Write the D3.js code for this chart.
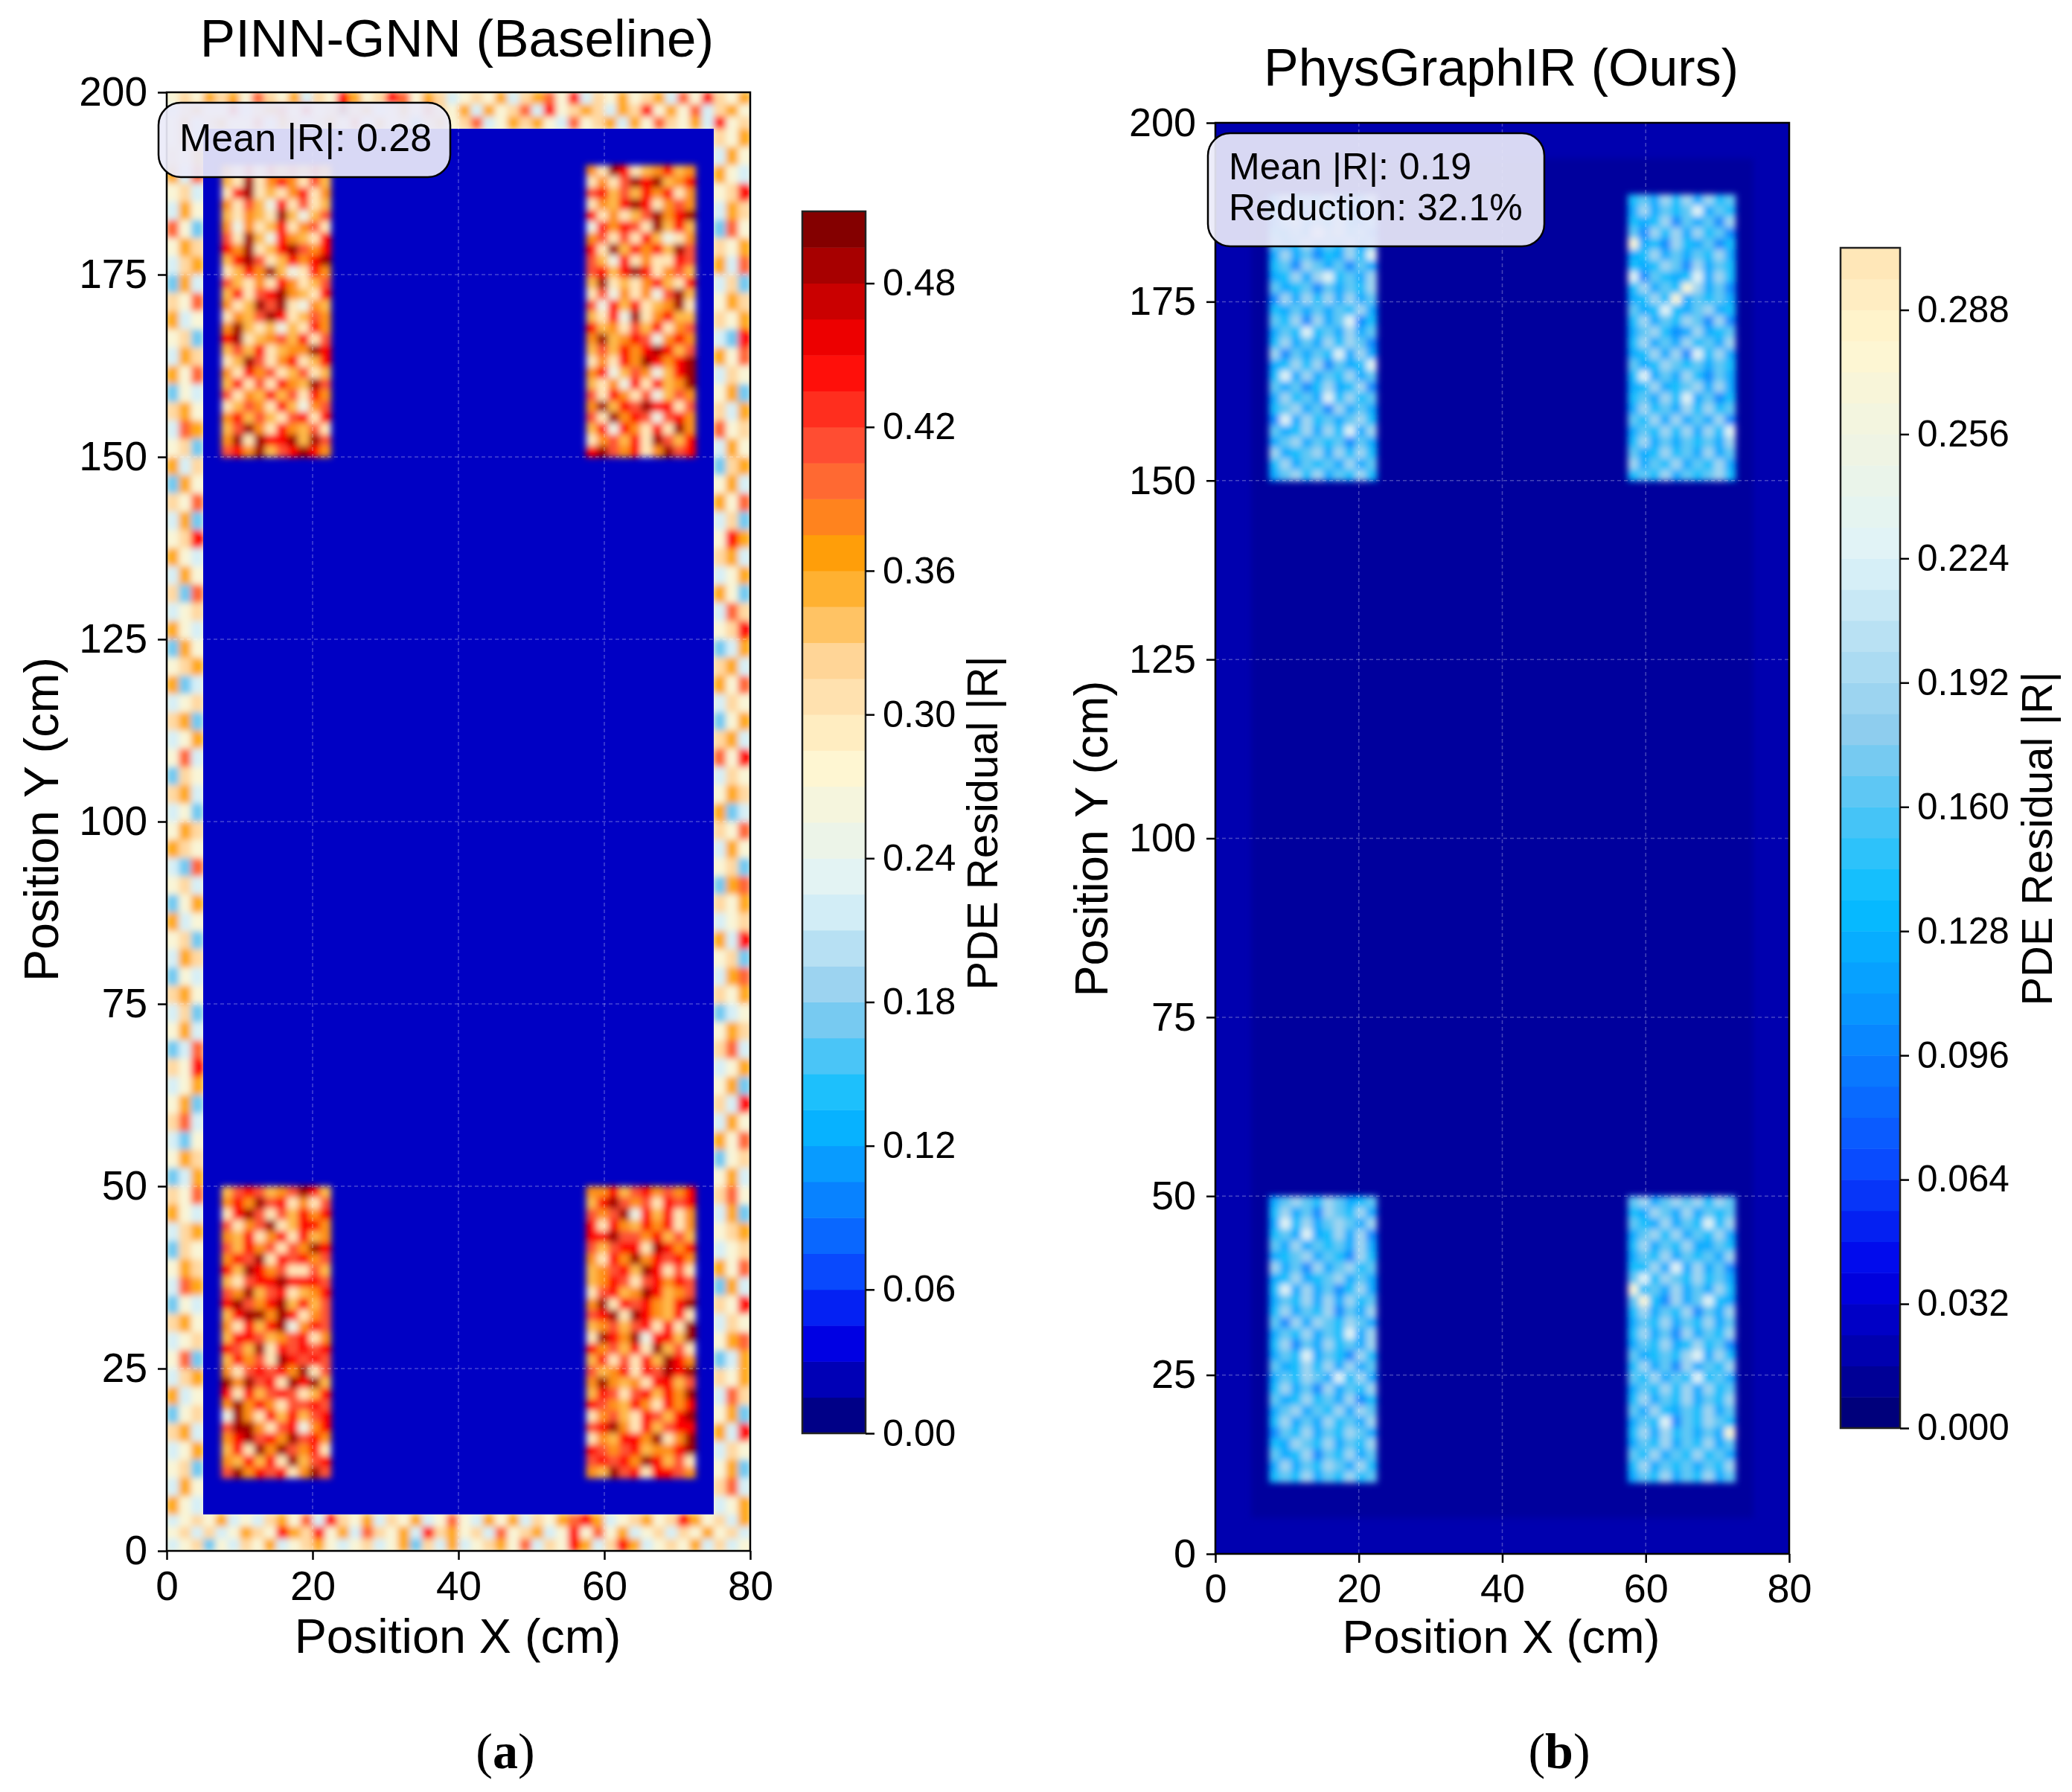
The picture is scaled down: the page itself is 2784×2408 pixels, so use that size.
<!DOCTYPE html>
<html>
<head>
<meta charset="utf-8">
<script src="https://cdn.jsdelivr.net/npm/d3@7"></script>
<style>
  body { margin: 0; background: #fff; }
  text { font-family: "Liberation Sans", Arial, sans-serif; fill: #000; }
</style>
</head>
<body>
<div id="chart"></div>
<script>
// residual colours (value -> colour)
const colorStops = [0, 0.015, 0.04, 0.07, 0.105, 0.135, 0.18, 0.225, 0.28, 0.32, 0.365, 0.405, 0.45, 0.48, 0.51];
const colorValues = ["#00006e", "#0000a0", "#0000ea", "#0a50ff", "#0890ff", "#06bdff", "#8ecdee", "#dff3f8", "#fff6d0", "#ffd8a0", "#ffa206", "#ff5c3c", "#ff0000", "#b80000", "#720000"];

// each digit in the grids below is a level index, read by eye from crops of the picture.
// cells are coarser than the original image, so the speckle is only approximate
const levelsA = [0.02, 0.13, 0.18, 0.25, 0.30, 0.345, 0.375, 0.41, 0.45, 0.49];
const levelsB = [0.05, 0.08, 0.105, 0.125, 0.14, 0.165, 0.19, 0.23, 0.27, 0.30];
const levelsRing = [0.02, 0.13, 0.17, 0.22, 0.27, 0.32, 0.36, 0.40, 0.45, 0.49];

const xTicks = [0, 20, 40, 60, 80];
const yTicks = [0, 25, 50, 75, 100, 125, 150, 175, 200];
const barTicksA = [0, 0.06, 0.12, 0.18, 0.24, 0.30, 0.36, 0.42, 0.48];
const barTicksB = [0, 0.032, 0.064, 0.096, 0.128, 0.16, 0.192, 0.224, 0.256, 0.288];

// flat background values
const ringMeanA = 0.27;
const backgroundA = 0.027;
const backgroundRingB = 0.02;
const backgroundInnerB = 0.014;

const patchATL = ["6484857586","5494686475","4894546846","6475384745","5465495357","6364584674","7495386548","8694589768","5897458689","4586953486","7546486457","5847896548","6459794365","4657984576","6954535486","8945675847","5758456698","4597468458","6486745745","5847486597","7465857486","4576485367","6857547848","5796486574","6949889597","7869578986"];
const patchATR = ["6498456856","4647989568","7857586846","4658984676","8464579689","3868749585","6747485346","8495868597","7538464487","7858984675","5945468548","4736463795","7385845694","5483946855","8564758467","6956873686","5758689857","4648698689","6835763589","5463848569","7486473576","6958798847","7496873786","5838648496","4675849758","8976846978"];
const patchABL = ["5787567985","6869784647","4897475868","7467945886","6584684856","7586747698","6879487867","8598674475","5478898887","7695784568","8976895857","5899698467","6485893687","5887567846","8759487878","5867498787","6478786947","9697849895","8485787458","6968647787","3964858578","7996478368","6897869786","5849697684","6585849578","7968784697"];
const patchABR = ["6685786768","5897674878","7679385846","8486586846","8897768575","7578849868","6486968786","5678598474","5687478687","4785698567","6948786589","7894986584","5675784849","4986938859","8675849574","5847485986","7568487989","6965648857","5874785869","8765864868","4675487589","7896485788","4658869469","8767856689","7878698574","6597848876"];

const ringATop = ["454656475463548645874653454635674835464563748546","356448356748459563464754636457384565365846473564","463564473653564736452564573465643745636475463845"];
const ringABottom = ["345463435647385463546347436463546786345645864536","453534654865846375463856453745634847463453546453","345243546345643453462536345647354863586345463534"];
const ringALeft = ["463","546","637","453","364","742","465","356","263","547","634","452","365","647","243","564","376","452","635","264","547","362","458","643","364","527","345","643","264","456","623","345","562","346","473","254","563","342","465","654","327","453","246","634","452","365","243","564","352","463","237","548","346","462","573","324","465","236","547","643","356","254","465","376","243","564","345","472","356","634","245","563","346","452","364","643"];
const ringARight = ["546","364","643","458","365","274","546","637","352","465","546","328","647","354","462","536","745","364","256","463","647","352","486","563","346","642","375","458","236","563","647","354","246","563","748","354","465","623","547","364","452","267","546","345","638","452","367","546","234","465","573","346","462","538","364","647","245","463","574","362","456","345","647","263","548","354","467","236","546","375","462","638","354","462","573","346"];

const patchBTL = ["3645463536","4653746435","2563546325","4353756452","5346354635","3635243647","4526535253","3463674536","5345253546","2636463635","4353535463","5462635724","3547453635","4635364652","6253547363","3464625347","4736354635","5352463462","3645374645","4563526353","2736453564","5346364736","3563545253","6345636464","4635453635","3564635464"];
const patchBTR = ["4536463645","3635457354","4346253526","5264636452","8342643524","3463535463","4346526354","7254347364","4635486352","3464835453","5347435634","4635465262","3564236345","4635364536","3463627463","5346545354","4735364253","3463456363","4536473524","3645364645","5463635362","3546463647","4635354536","5346453635","6354635463","4546354564"];
const patchBBL = ["3565465345","4635265463","3746356536","4537346362","5363545363","3456354264","6352635645","3463456353","4736352463","3546363645","4635462536","5263654653","3546354736","4625364536","3547354264","5346463635","3546537463","4635263546","5346453624","3563546365","4635364536","2546354653","4365463546","5346254635","3635465364","4546354645"];
const patchBBR = ["5635656465","4365363545","5436354746","3564635463","4635463354","3546354536","4463736352","5746546453","8453635364","5842635743","4635462536","3546354635","4635263546","3546346452","5345467364","4635263546","5463547453","3546463645","4635463546","5364354635","3547254654","4636453538","3546354635","5463546453","4635453546","3546354635"];

const annotationA = ["Mean |R|: 0.28"];
const annotationB = ["Mean |R|: 0.19", "Reduction: 32.1%"];

const svg = d3.select("#chart").append("svg")
  .attr("width", 2784)
  .attr("height", 2408);

const defs = svg.append("defs");
defs.append("filter").attr("id", "soften")
  .attr("filterUnits", "userSpaceOnUse")
  .attr("x", 0).attr("y", 0).attr("width", 2784).attr("height", 2408)
  .append("feGaussianBlur").attr("stdDeviation", 4.5);
defs.append("filter").attr("id", "softenRing")
  .attr("filterUnits", "userSpaceOnUse")
  .attr("x", 0).attr("y", 0).attr("width", 2784).attr("height", 2408)
  .append("feGaussianBlur").attr("stdDeviation", 4.5);

const heatColor = d3.scaleLinear().domain(colorStops).range(colorValues).interpolate(d3.interpolateRgb);

// pour one block of digit rows into cells through the chart scales
function drawGrid(group, rows, levels, x0, x1, y0, y1, xScale, yScale) {
  const cols = rows[0].length;
  const cells = [];
  rows.forEach(function(row, r) {
    row.split("").forEach(function(digit, c) {
      cells.push({ r: r, c: c, value: levels[+digit] });
    });
  });
  const cellX = d3.scaleLinear().domain([0, cols]).range([x0, x1]);
  const cellY = d3.scaleLinear().domain([0, rows.length]).range([y1, y0]);
  group.append("g").selectAll("rect")
    .data(cells)
    .enter()
    .append("rect")
    .attr("x", d => xScale(cellX(d.c)))
    .attr("y", d => yScale(cellY(d.r)))
    .attr("width", d => xScale(cellX(d.c + 1)) - xScale(cellX(d.c)) + 0.5)
    .attr("height", d => yScale(cellY(d.r + 1)) - yScale(cellY(d.r)) + 0.5)
    .attr("fill", d => heatColor(d.value));
}

function drawBlock(group, value, x0, x1, y0, y1, xScale, yScale) {
  group.append("rect")
    .attr("x", xScale(x0))
    .attr("y", yScale(y1))
    .attr("width", xScale(x1) - xScale(x0))
    .attr("height", yScale(y0) - yScale(y1))
    .attr("fill", heatColor(value));
}

function drawAxes(xScale, yScale, tickFont) {
  const left = xScale(0), right = xScale(80), top = yScale(200), bottom = yScale(0);

  const gridG = svg.append("g");
  gridG.selectAll(".gx").data(xTicks).enter().append("line")
    .attr("x1", d => xScale(d)).attr("x2", d => xScale(d))
    .attr("y1", top).attr("y2", bottom);
  gridG.selectAll(".gy").data(yTicks).enter().append("line")
    .attr("x1", left).attr("x2", right)
    .attr("y1", d => yScale(d)).attr("y2", d => yScale(d));
  gridG.selectAll("line")
    .attr("stroke", "#fff")
    .attr("stroke-opacity", 0.28)
    .attr("stroke-width", 1.5)
    .attr("stroke-dasharray", "5 4");

  svg.append("rect")
    .attr("x", left).attr("y", top)
    .attr("width", right - left).attr("height", bottom - top)
    .attr("fill", "none").attr("stroke", "#000").attr("stroke-width", 2.5);

  const xAxis = d3.axisBottom(xScale).tickValues(xTicks).tickSize(12).tickPadding(15);
  const yAxis = d3.axisLeft(yScale).tickValues(yTicks).tickSize(12).tickPadding(14);
  const xg = svg.append("g").attr("transform", `translate(0, ${bottom})`).call(xAxis);
  const yg = svg.append("g").attr("transform", `translate(${left}, 0)`).call(yAxis);
  [xg, yg].forEach(function(g) {
    g.select(".domain").remove();
    g.selectAll("line").attr("stroke", "#000").attr("stroke-width", 2.5);
    g.selectAll("text").style("font-size", tickFont + "px");
  });
}

function drawColorbar(x0, x1, barMax, step, ticks, scaleY, format, labelX, labelY, fontSize) {
  const bands = d3.range(0, Math.round(barMax / step)).map(i => i * step);
  svg.append("g").selectAll("rect")
    .data(bands)
    .enter()
    .append("rect")
    .attr("x", x0)
    .attr("y", d => scaleY(d + step))
    .attr("width", x1 - x0)
    .attr("height", d => scaleY(d) - scaleY(d + step) + 0.5)
    .attr("fill", d => heatColor(d + step / 2));
  svg.append("rect")
    .attr("x", x0).attr("y", scaleY(barMax))
    .attr("width", x1 - x0).attr("height", scaleY(0) - scaleY(barMax))
    .attr("fill", "none").attr("stroke", "#222").attr("stroke-width", 2.5);
  const axis = d3.axisRight(scaleY).tickValues(ticks).tickSize(12).tickPadding(11).tickFormat(d3.format(format));
  const g = svg.append("g").attr("transform", `translate(${x1}, 0)`).call(axis);
  g.select(".domain").remove();
  g.selectAll("line").attr("stroke", "#000").attr("stroke-width", 2.5);
  g.selectAll("text").style("font-size", fontSize + "px");
  svg.append("text")
    .attr("transform", `translate(${labelX}, ${labelY}) rotate(-90)`)
    .attr("text-anchor", "middle")
    .style("font-size", "58px")
    .text("PDE Residual |R|");
}

function drawNote(x, y, w, h, lines, textX, baselines, fontSize) {
  svg.append("rect")
    .attr("x", x).attr("y", y).attr("width", w).attr("height", h)
    .attr("rx", 30).attr("ry", 30)
    .attr("fill", "#eaeaf8").attr("fill-opacity", 0.92)
    .attr("stroke", "#000").attr("stroke-width", 2.5);
  svg.selectAll(null).data(lines).enter().append("text")
    .attr("x", textX)
    .attr("y", (d, i) => baselines[i])
    .style("font-size", fontSize + "px")
    .text(d => d);
}

function addLabels(title, titleX, titleY, titleFont, xLabelX, xLabelY, yLabelX, yLabelY, fontSize) {
  svg.append("text").attr("x", titleX).attr("y", titleY)
    .attr("text-anchor", "middle").style("font-size", titleFont + "px").text(title);
  svg.append("text").attr("x", xLabelX).attr("y", xLabelY)
    .attr("text-anchor", "middle").style("font-size", fontSize + "px").text("Position X (cm)");
  svg.append("text").attr("transform", `translate(${yLabelX}, ${yLabelY}) rotate(-90)`)
    .attr("text-anchor", "middle").style("font-size", fontSize + "px").text("Position Y (cm)");
}

// (a) PINN-GNN
const xA = d3.scaleLinear().domain([0, 80]).range([224, 1008]);
const yA = d3.scaleLinear().domain([0, 200]).range([2084, 124]);
defs.append("clipPath").attr("id", "clipA").append("rect")
  .attr("x", 224).attr("y", 124).attr("width", 784).attr("height", 1960);
const heatA = svg.append("g").attr("clip-path", "url(#clipA)");
drawBlock(heatA, ringMeanA, 0, 80, 0, 200, xA, yA);
const ringA = heatA.append("g").attr("filter", "url(#softenRing)");
drawGrid(ringA, ringATop, levelsRing, 0, 80, 195, 200, xA, yA);
drawGrid(ringA, ringABottom, levelsRing, 0, 80, 0, 5, xA, yA);
drawGrid(ringA, ringALeft, levelsRing, 0, 5, 5, 195, xA, yA);
drawGrid(ringA, ringARight, levelsRing, 75, 80, 5, 195, xA, yA);
drawBlock(heatA, backgroundA, 5, 75, 5, 195, xA, yA);
const patchesA = heatA.append("g").attr("filter", "url(#soften)");
drawGrid(patchesA, patchATL, levelsA, 7.5, 22.5, 150, 190, xA, yA);
drawGrid(patchesA, patchATR, levelsA, 57.5, 72.5, 150, 190, xA, yA);
drawGrid(patchesA, patchABL, levelsA, 7.5, 22.5, 10, 50, xA, yA);
drawGrid(patchesA, patchABR, levelsA, 57.5, 72.5, 10, 50, xA, yA);
drawAxes(xA, yA, 55);
const barA = d3.scaleLinear().domain([0, 0.51]).range([1926, 284]);
drawColorbar(1078, 1163, 0.51, 0.015, barTicksA, barA, ".2f", 1340, 1106, 50.5);
drawNote(213, 138, 392, 100, annotationA, 241, [203], 52);
addLabels("PINN-GNN (Baseline)", 614, 76, 71, 615, 2221, 78, 1101, 64.7);

// (b) PhysGraphIR
const xB = d3.scaleLinear().domain([0, 80]).range([1633, 2404]);
const yB = d3.scaleLinear().domain([0, 200]).range([2088, 165]);
defs.append("clipPath").attr("id", "clipB").append("rect")
  .attr("x", 1633).attr("y", 165).attr("width", 771).attr("height", 1923);
const heatB = svg.append("g").attr("clip-path", "url(#clipB)");
drawBlock(heatB, backgroundRingB, 0, 80, 0, 200, xB, yB);
const innerB = heatB.append("g").attr("filter", "url(#softenRing)");
drawBlock(innerB, backgroundInnerB, 5, 75, 5, 195, xB, yB);
const patchesB = heatB.append("g").attr("filter", "url(#soften)");
drawGrid(patchesB, patchBTL, levelsB, 7.5, 22.5, 150, 190, xB, yB);
drawGrid(patchesB, patchBTR, levelsB, 57.5, 72.5, 150, 190, xB, yB);
drawGrid(patchesB, patchBBL, levelsB, 7.5, 22.5, 10, 50, xB, yB);
drawGrid(patchesB, patchBBR, levelsB, 57.5, 72.5, 10, 50, xB, yB);
drawAxes(xB, yB, 54);
const barB = d3.scaleLinear().domain([0, 0.304]).range([1919, 333]);
drawColorbar(2473, 2553, 0.304, 0.008, barTicksB, barB, ".3f", 2757, 1127, 49.5);
drawNote(1623, 179, 452, 152, annotationB, 1651, [241, 296], 50);
addLabels("PhysGraphIR (Ours)", 2017, 115, 70, 2017, 2221, 1488, 1127, 63);

// panel captions
const captions = [{ letter: "a", x: 679 }, { letter: "b", x: 2095 }];
captions.forEach(function(c) {
  const t = svg.append("text")
    .attr("x", c.x).attr("y", 2376)
    .attr("text-anchor", "middle")
    .style("font-family", "'Liberation Serif', serif")
    .style("font-size", "68px");
  t.append("tspan").text("(");
  t.append("tspan").style("font-weight", "bold").text(c.letter);
  t.append("tspan").text(")");
});
</script>
</body>
</html>
